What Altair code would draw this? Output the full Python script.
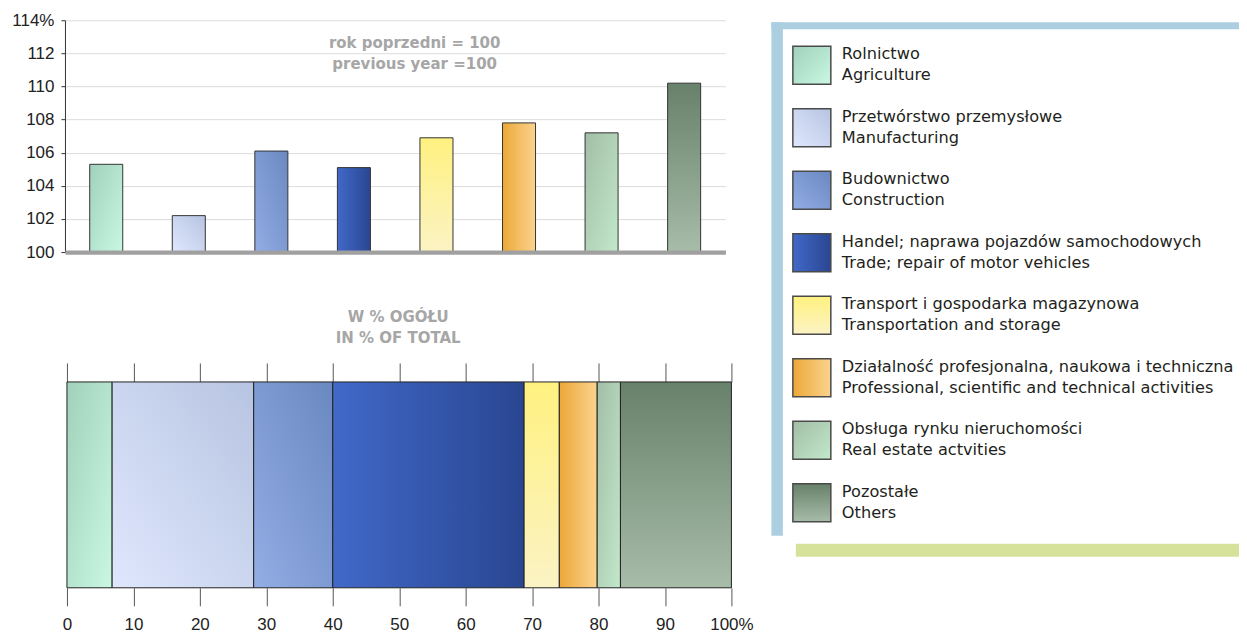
import altair as alt
import pandas as pd

# ---------------- data ----------------
sectors_pl = [
    "Rolnictwo",
    "Przetwórstwo przemysłowe",
    "Budownictwo",
    "Handel; naprawa pojazdów samochodowych",
    "Transport i gospodarka magazynowa",
    "Działalność profesjonalna, naukowa i techniczna",
    "Obsługa rynku nieruchomości",
    "Pozostałe",
]
sectors_en = [
    "Agriculture",
    "Manufacturing",
    "Construction",
    "Trade; repair of motor vehicles",
    "Transportation and storage",
    "Professional, scientific and technical activities",
    "Real estate actvities",
    "Others",
]
growth_index = [105.3, 102.2, 106.1, 105.1, 106.9, 107.8, 107.2, 110.2]
share_pct = [6.8, 21.3, 11.9, 28.8, 5.3, 5.7, 3.5, 16.7]
y_tick_values = [100, 102, 104, 106, 108, 110, 112, 114]
x_tick_values = [0, 10, 20, 30, 40, 50, 60, 70, 80, 90, 100]
index_note = ["rok poprzedni = 100", "previous year =100"]
share_title = ["W % OGÓŁU", "IN % OF TOTAL"]

# gradient colours per sector
grad_start = ["#a1d1ba", "#dfe7fd", "#93ade5", "#4169c9", "#fff180", "#eca838", "#a2bea6", "#68816a"]
grad_end = ["#c9f7e3", "#b7c4e1", "#6a88c0", "#294691", "#fbf3c4", "#fbd38e", "#c2e8ca", "#a7bca9"]
grad_dir = [(0, 0, 1, 1), (0, 1, 1, 0), (0, 1, 1, 0), (0, 0, 1, 0),
            (0, 0, 0, 1), (0, 0, 1, 0), (0, 0, 1, 1), (0, 0, 0, 1)]

df = pd.DataFrame({
    "idx": list(range(len(sectors_en))),
    "pl": sectors_pl,
    "en": sectors_en,
    "growth": growth_index,
    "share": share_pct,
})


def grad(i):
    x1, y1, x2, y2 = grad_dir[i]
    return {
        "gradient": "linear",
        "x1": x1, "y1": y1, "x2": x2, "y2": y2,
        "stops": [
            {"offset": 0, "color": grad_start[i]},
            {"offset": 1, "color": grad_end[i]},
        ],
    }


AX_FONT = "Liberation Sans"
TXT_FONT = "DejaVu Sans"
GREY_TXT = "#a6a6a6"

# ---------------- top chart: growth index ----------------
x_top = alt.X(
    "en:N",
    scale=alt.Scale(domain=sectors_en, paddingInner=0.6, paddingOuter=0.3),
    axis=alt.Axis(labels=False, ticks=False, title=None, domainColor="#a0a0a0",
                  domainWidth=4.3, grid=False, zindex=1),
)
y_top = alt.Y(
    "growth:Q",
    scale=alt.Scale(domain=[100, 114], nice=False, zero=False),
    axis=alt.Axis(values=y_tick_values,
                  labelExpr="datum.value == 114 ? '114%' : datum.label",
                  tickSize=4, labelPadding=7, labelFont=AX_FONT, labelFontSize=17,
                  labelColor="#222222", domainColor="#333333", tickColor="#333333",
                  gridColor="#dcdcdc", gridWidth=1, grid=True, title=None, zindex=0),
)

top_layers = []
for i, name in enumerate(sectors_en):
    top_layers.append(
        alt.Chart(df)
        .transform_filter(alt.datum.en == name)
        .mark_bar(fill=grad(i), stroke="#333333", strokeWidth=1)
        .encode(x=x_top, y=y_top, y2=alt.datum(100))
    )

note = (
    alt.Chart(pd.DataFrame({"n": [0]}))
    .mark_text(text=index_note, font=TXT_FONT, fontSize=15, fontWeight="bold",
               color=GREY_TXT, align="center", baseline="top", lineHeight=21)
    .encode(x=alt.value(350), y=alt.value(16))
)

top = alt.layer(*top_layers, note).properties(width=661, height=232)

# ---------------- bottom chart: share of total ----------------
xs = alt.Scale(domain=[0, 100], nice=False, zero=False, range=[2, 667])
bottom_axis = alt.Axis(values=x_tick_values,
                       labelExpr="datum.value == 100 ? '100%' : datum.label",
                       orient="bottom", tickSize=18, tickColor="#555555", domain=False,
                       grid=False, labelFont=AX_FONT, labelFontSize=17, labelFlush=False,
                       labelColor="#222222", labelPadding=11, title=None)
top_axis = alt.Axis(values=x_tick_values, orient="top", labels=False, tickSize=19,
                    tickColor="#555555", domain=False, grid=False, title=None)

bottom_layers = []
for i, name in enumerate(sectors_en):
    bottom_layers.append(
        alt.Chart(df)
        .transform_window(cum="sum(share)", sort=[alt.SortField("idx", order="ascending")])
        .transform_calculate(start="datum.cum - datum.share", row="'all'")
        .transform_filter(alt.datum.en == name)
        .mark_rect(fill=grad(i), stroke="#222222", strokeWidth=1)
        .encode(
            x=alt.X("start:Q", scale=xs, axis=bottom_axis),
            x2="cum:Q",
            y=alt.Y("row:N", axis=None, scale=alt.Scale(paddingInner=0, paddingOuter=0)),
        )
    )
bars = alt.layer(*bottom_layers)
tick_layer = (
    alt.Chart(pd.DataFrame({"v": x_tick_values}))
    .mark_tick(opacity=0)
    .encode(x=alt.X("v:Q", scale=xs, axis=top_axis))
)
bottom = (
    alt.layer(bars, tick_layer)
    .resolve_axis(x="independent")
    .properties(
        width=667, height=206,
        title=alt.TitleParams(text=share_title, font=TXT_FONT, fontSize=15,
                              fontWeight="bold", color=GREY_TXT, anchor="middle",
                              offset=16, lineHeight=21),
    )
)

# ---------------- legend ----------------
LW = 468
frame_df = pd.DataFrame({"n": [0]})
left_bar = alt.Chart(frame_df).mark_rect(color="#abcfe0").encode(
    x=alt.value(0), x2=alt.value(11.5), y=alt.value(2), y2=alt.value(516))
top_bar = alt.Chart(frame_df).mark_rect(color="#abcfe0").encode(
    x=alt.value(0), x2=alt.value(LW), y=alt.value(2), y2=alt.value(9))
green_bar = alt.Chart(frame_df).mark_rect(color="#d6e19a").encode(
    x=alt.value(24.5), x2=alt.value(LW), y=alt.value(524), y2=alt.value(537))

leg_y = alt.Y("idx:Q", scale=alt.Scale(domain=[0, 7], range=[45, 483]), axis=None)

swatches = []
for i, name in enumerate(sectors_en):
    swatches.append(
        alt.Chart(df)
        .transform_filter(alt.datum.en == name)
        .mark_square(size=1444, fill=grad(i), stroke="#4a4a4a", strokeWidth=1.5, opacity=1)
        .encode(x=alt.value(40.5), y=leg_y)
    )

line1 = alt.Chart(df).mark_text(align="left", baseline="middle", font=TXT_FONT,
                                fontSize=16.2, color="#231f20", dy=-11).encode(
    x=alt.value(70.5), y=leg_y, text="pl:N")
line2 = alt.Chart(df).mark_text(align="left", baseline="middle", font=TXT_FONT,
                                fontSize=16.2, color="#231f20", dy=10).encode(
    x=alt.value(70.5), y=leg_y, text="en:N")

legend = alt.layer(left_bar, top_bar, green_bar, *swatches, line1, line2).properties(
    width=LW, height=537)

chart = (
    alt.hconcat(alt.vconcat(top, bottom, spacing=50), legend, spacing=18)
    .properties(padding={"left": 3, "top": 3, "right": 0, "bottom": 0})
    .configure_view(strokeWidth=0)
)

chart.save("out.html", embed_options={"renderer": "svg", "actions": False})
